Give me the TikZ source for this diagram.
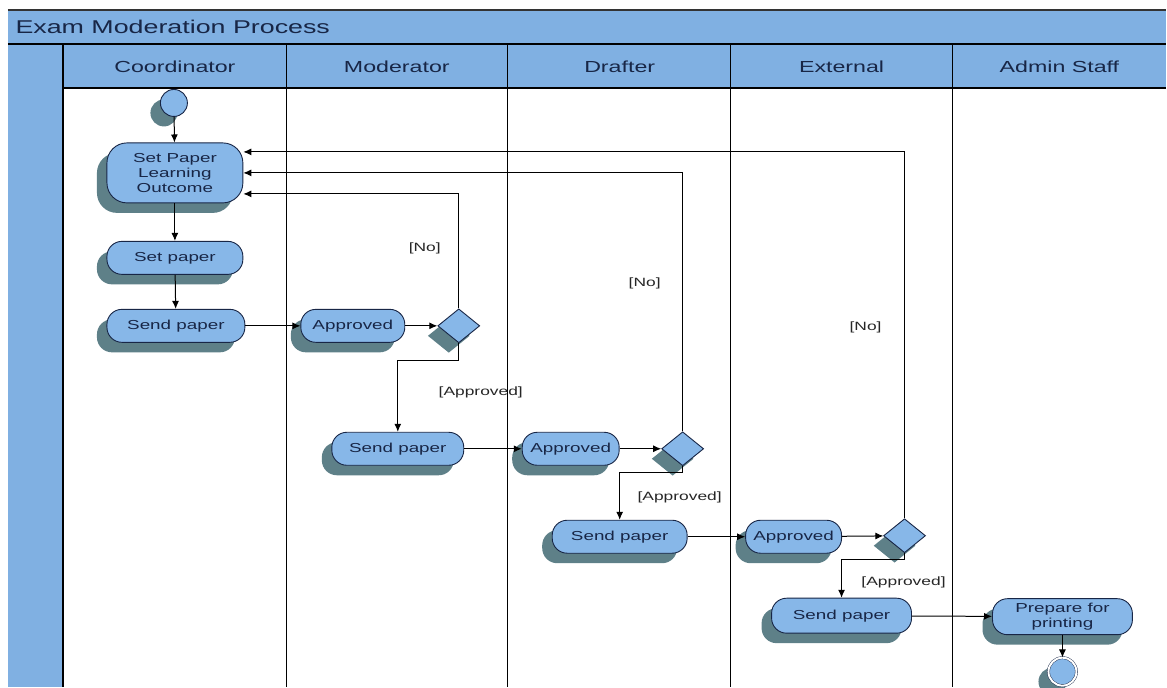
\documentclass[tikz,border=0pt]{standalone}
\usepackage{fontspec}
\setmainfont[FakeStretch=1.45]{Liberation Sans}
\usetikzlibrary{shapes.geometric,shadows,arrows.meta}
\definecolor{lanec}{RGB}{128,176,226}
\definecolor{actc}{RGB}{135,183,232}
\definecolor{shade}{RGB}{94,128,136}
\definecolor{ink}{RGB}{24,38,70}

\begin{document}
\begin{tikzpicture}[x=1pt,y=-1pt,
	shd/.style={drop shadow={shadow xshift=-10pt,shadow yshift=-10pt,opacity=1,fill=shade}},
	box/.style={draw=ink, line width=0.9pt, fill=actc, rounded corners=15pt, text=ink, align=center,
		font=\fontsize{13}{15}\selectfont, minimum height=33pt, inner sep=2pt, shd},
	dec/.style={diamond, draw=ink, line width=0.9pt, fill=actc, minimum width=42pt, minimum height=34pt, inner sep=0pt, shd},
	startc/.style={circle, draw=ink, line width=0.9pt, fill=actc, minimum size=27pt, inner sep=0pt, shd},
	endc/.style={circle, draw=ink, fill=actc, double=white, double distance=2pt, minimum size=28pt, inner sep=0pt, shd},
	hdr/.style={text=ink, font=\fontsize{16}{18}\selectfont},
	lbl/.style={text=black!85, font=\fontsize{12}{14}\selectfont},
	arr/.style={-{Latex[length=8pt,width=7pt]}, line width=1pt}]
	% lanes
	\fill[white] (0,0) rectangle (1167,687);
	\fill[lanec] (8,10) rectangle (1167,88);
	\fill[lanec] (8,88) rectangle (63,687);
	\draw[line width=1.2pt, black!80] (8,10) -- (1167,10);
	\draw[line width=1.2pt] (8,44) -- (1167,44);
	\draw[line width=1.2pt] (63,88) -- (1167,88);
	\foreach \lx in {63,287,508,731,953}
		\draw[line width=1.2pt] (\lx,44) -- (\lx,687);
	\node	(ttl) at (12,27) [anchor=west, text=ink, font=\fontsize{18.5}{20}\selectfont] {Exam Moderation Process};
	\node	(hc) at (175,67) [hdr] {Coordinator};
	\node	(hm) at (397,67) [hdr] {Moderator};
	\node	(hd) at (620,67) [hdr] {Drafter};
	\node	(he) at (842,67) [hdr] {External};
	\node	(ha) at (1060,67) [hdr] {Admin Staff};
	% activities
	\node	(start) at (174,103) [startc] {};
	\node	(lo) at (175,173) [box, minimum width=136pt, minimum height=60pt, rounded corners=20pt] {Set Paper\\Learning\\Outcome};
	\node	(setp) at (175,258) [box, minimum width=136pt] {Set paper};
	\node	(send1) at (176,326) [box, minimum width=138pt] {Send paper};
	\node	(app1) at (353,326) [box, minimum width=104pt] {Approved};
	\node	(d1) at (459,326) [dec] {};
	\node	(send2) at (398,449) [box, minimum width=132pt] {Send paper};
	\node	(app2) at (571,449) [box, minimum width=97pt] {Approved};
	\node	(d2) at (683,449) [dec] {};
	\node	(send3) at (620,537) [box, minimum width=135pt] {Send paper};
	\node	(app3) at (794,537) [box, minimum width=96pt] {Approved};
	\node	(d3) at (905,536) [dec] {};
	\node	(send4) at (842,616) [box, minimum width=140pt, minimum height=35pt] {Send paper};
	\node	(prep) at (1063,617) [box, minimum width=140pt, minimum height=36pt] {Prepare for\\printing};
	\node	(fin) at (1063,672) [endc] {};
	% guards
	\node	(no1) at (425,249) [lbl] {[No]};
	\node	(no2) at (645,284) [lbl] {[No]};
	\node	(no3) at (866,328) [lbl] {[No]};
	\node	(ok1) at (481,393) [lbl] {[Approved]};
	\node	(ok2) at (680,498) [lbl] {[Approved]};
	\node	(ok3) at (904,583) [lbl] {[Approved]};
	\draw[arr]
	(start) edge (lo)
	(lo) edge (setp)
	(setp) edge (send1)
	(send1) edge (app1)
	(app1) edge (d1)
	(send2) edge (app2)
	(app2) edge (d2)
	(send3) edge (app3)
	(app3) edge (d3)
	(send4) edge (prep)
	(prep) edge (fin)
	;
	\draw[arr] (d1.north) |- ([yshift=-21pt]lo.east);
	\draw[arr] (d2.north) |- (lo.east);
	\draw[arr] (d3.north) |- ([yshift=21pt]lo.east);
	\draw[arr] (d1.south) -- ++(0,17) -| (send2.north);
	\draw[arr] (d2.south) -- ++(0,6) -| (send3.north);
	\draw[arr] (d3.south) -- ++(0,6) -| (send4.north);
\end{tikzpicture}
\end{document}
